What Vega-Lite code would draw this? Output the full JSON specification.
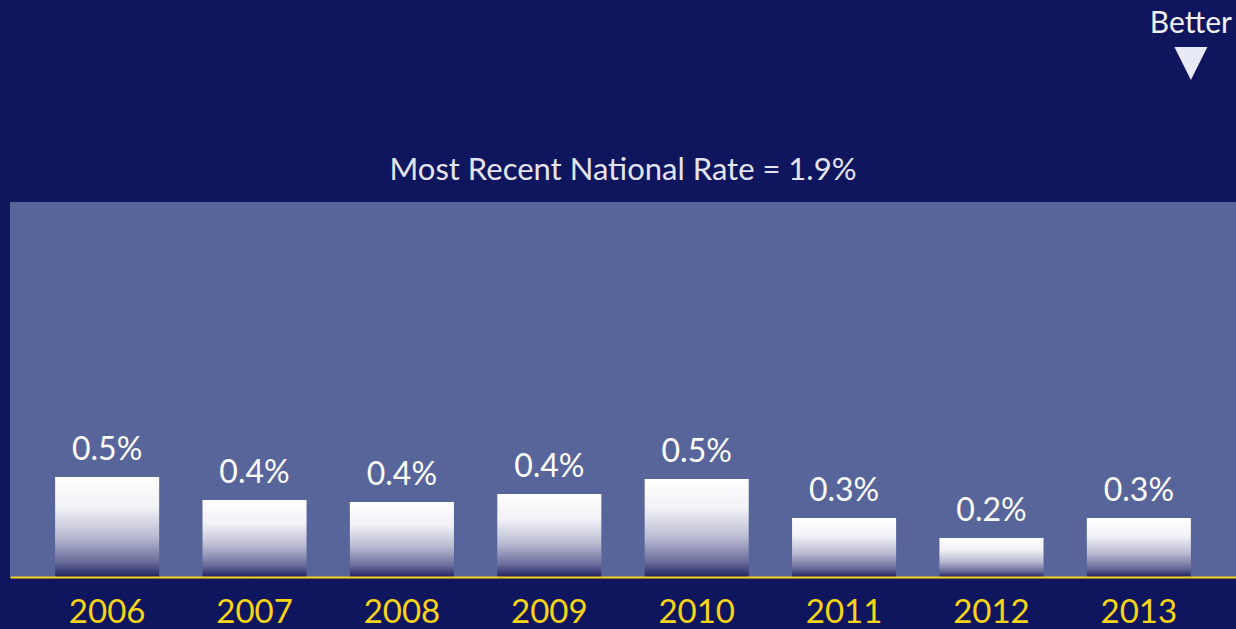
{
  "$schema": "https://vega.github.io/schema/vega-lite/v6.json",
  "width": 1226,
  "height": 375,
  "autosize": {"type": "none"},
  "padding": {"left": 10, "top": 202, "right": 0, "bottom": 52},
  "background": "#10165e",
  "config": {"view": {"fill": "#58659b", "stroke": null}, "font": "Lato"},
  "title": {"text": "Most Recent National Rate = 1.9%", "color": "#e4e4ee", "fontSize": 31, "fontWeight": "normal", "font": "Lato", "anchor": "middle", "frame": "group", "offset": 18, "dy": 196},
  "data": {"values": [
    {"year": "2006", "rate": 0.50, "label": "0.5%"},
    {"year": "2007", "rate": 0.385, "label": "0.4%"},
    {"year": "2008", "rate": 0.375, "label": "0.4%"},
    {"year": "2009", "rate": 0.415, "label": "0.4%"},
    {"year": "2010", "rate": 0.49, "label": "0.5%"},
    {"year": "2011", "rate": 0.295, "label": "0.3%"},
    {"year": "2012", "rate": 0.195, "label": "0.2%"},
    {"year": "2013", "rate": 0.295, "label": "0.3%"}
  ]},
  "layer": [
    {
      "mark": {"type": "bar", "color": {"gradient": "linear", "x1": 0, "y1": 0, "x2": 0, "y2": 1, "stops": [
        {"offset": 0, "color": "#ffffff"},
        {"offset": 0.3, "color": "#f2f2f7"},
        {"offset": 0.6, "color": "#b9bad1"},
        {"offset": 0.85, "color": "#6a6c9c"},
        {"offset": 1, "color": "#202260"}
      ]}},
      "encoding": {
        "x": {"field": "year", "type": "nominal", "sort": null, "scale": {"paddingInner": 0.294, "paddingOuter": 0.306},
          "axis": {"title": null, "labelAngle": 0, "labelColor": "#f7d417", "labelFontSize": 33, "labelFont": "Lato", "labelBaseline": "alphabetic", "labelPadding": 45, "ticks": false, "tickSize": 0, "domainColor": "#f7d417", "domainWidth": 2, "grid": false, "zindex": 1}},
        "y": {"field": "rate", "type": "quantitative", "scale": {"domain": [0, 1.875], "nice": false}, "axis": null}
      }
    },
    {
      "mark": {"type": "text", "color": "#ffffff", "fontSize": 32, "baseline": "alphabetic", "dy": -17},
      "encoding": {
        "x": {"field": "year", "type": "nominal", "sort": null},
        "y": {"field": "rate", "type": "quantitative"},
        "text": {"field": "label"}
      }
    },
    {
      "data": {"values": [{"note": "Better"}]},
      "mark": {"type": "text", "color": "#f0f0f6", "fontSize": 30, "baseline": "alphabetic"},
      "encoding": {
        "x": {"datum": "2013", "type": "nominal", "bandPosition": 1},
        "y": {"datum": 2.72, "type": "quantitative"},
        "text": {"field": "note"}
      }
    },
    {
      "data": {"values": [{"note": "Better"}]},
      "mark": {"type": "point", "shape": "M-1,-1L1,-1L0,1Z", "filled": true, "color": "#e8eaf5", "opacity": 1, "size": 1089},
      "encoding": {
        "x": {"datum": "2013", "type": "nominal", "bandPosition": 1},
        "y": {"datum": 2.5675, "type": "quantitative"}
      }
    }
  ]
}
